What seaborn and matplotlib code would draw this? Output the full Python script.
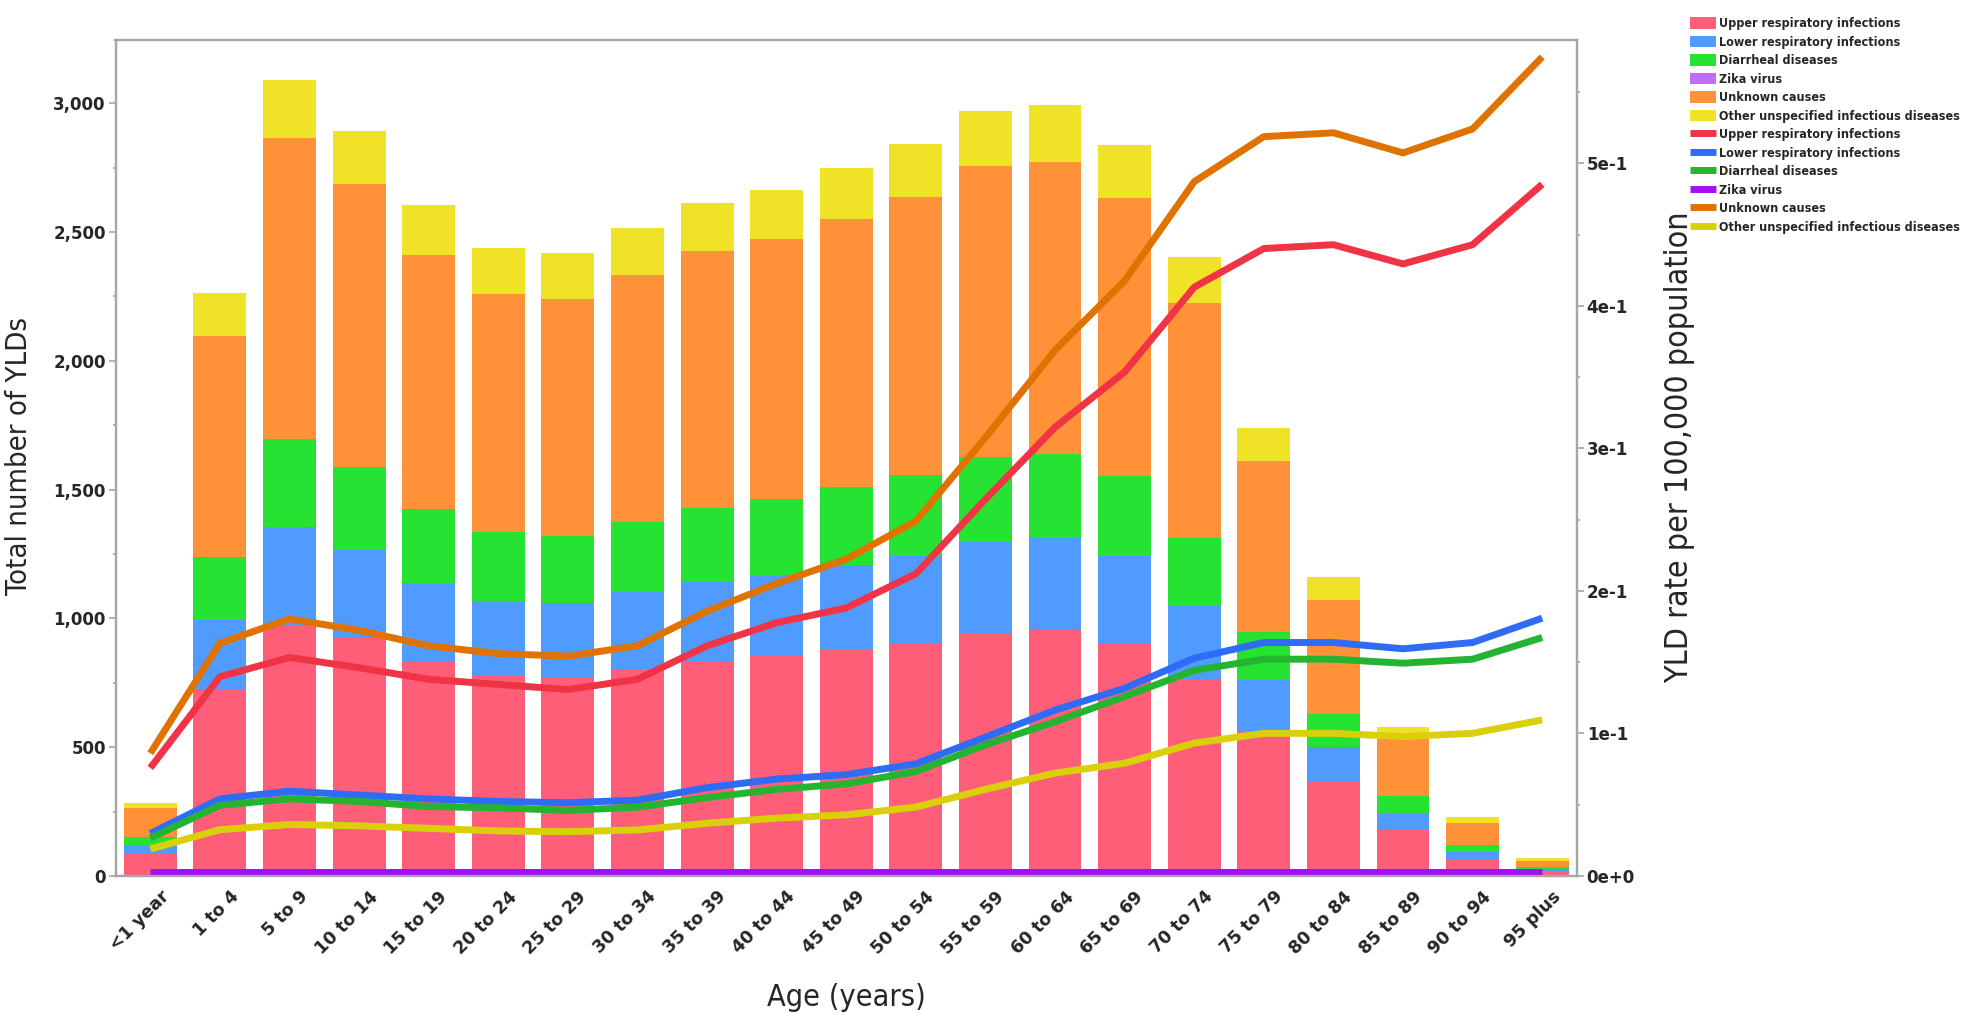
import numpy as np
import matplotlib
matplotlib.use("Agg")
import matplotlib.pyplot as plt
from matplotlib.ticker import MultipleLocator, FuncFormatter
from matplotlib.transforms import ScaledTranslation
import seaborn as sns

# Age groups
ages = ['<1 year', '1 to 4', '5 to 9', '10 to 14', '15 to 19', '20 to 24', '25 to 29',
        '30 to 34', '35 to 39', '40 to 44', '45 to 49', '50 to 54', '55 to 59', '60 to 64',
        '65 to 69', '70 to 74', '75 to 79', '80 to 84', '85 to 89', '90 to 94', '95 plus']

causes = ['Upper respiratory infections', 'Lower respiratory infections', 'Diarrheal diseases',
          'Zika virus', 'Unknown causes', 'Other unspecified infectious diseases']

# Total number of YLDs (stacked bars, left axis)
yld_upper = [84, 721, 975, 924, 830, 777, 771, 803, 830, 853, 878, 906, 943, 954, 901, 765, 560, 366, 178, 66, 17]
yld_lower = [36, 271, 378, 343, 309, 292, 288, 298, 311, 315, 328, 336, 355, 357, 341, 284, 199, 136, 68, 27, 10]
yld_diarrheal = [33, 248, 342, 321, 285, 267, 260, 273, 288, 294, 303, 315, 328, 328, 311, 264, 190, 128, 65, 27, 8]
yld_zika = [0] * 21
yld_unknown = [110, 855, 1168, 1097, 986, 922, 920, 958, 996, 1009, 1040, 1078, 1128, 1134, 1077, 910, 662, 442, 221, 87, 23]
yld_other = [22, 168, 225, 208, 193, 179, 178, 185, 189, 193, 201, 206, 217, 221, 206, 178, 129, 88, 46, 21, 10]

# YLD rate per 100,000 population (lines, right axis)
rate_upper = [0.0758, 0.1398, 0.1533, 0.1461, 0.1380, 0.1344, 0.1308, 0.1380, 0.1615, 0.1777, 0.1881,
              0.2120, 0.2643, 0.3148, 0.3536, 0.4131, 0.4402, 0.4429, 0.4294, 0.4429, 0.4853]
rate_lower = [0.0298, 0.0541, 0.0595, 0.0568, 0.0541, 0.0523, 0.0514, 0.0532, 0.0620, 0.0680, 0.0711,
              0.0787, 0.0974, 0.1164, 0.1317, 0.1528, 0.1638, 0.1638, 0.1594, 0.1638, 0.1809]
rate_diarrheal = [0.0266, 0.0496, 0.0541, 0.0523, 0.0487, 0.0478, 0.0460, 0.0483, 0.0550, 0.0608, 0.0646,
                  0.0733, 0.0920, 0.1082, 0.1259, 0.1443, 0.1521, 0.1521, 0.1493, 0.1521, 0.1673]
rate_zika = [0.0025] * 21
rate_unknown = [0.0861, 0.1633, 0.1804, 0.1723, 0.1615, 0.1560, 0.1542, 0.1615, 0.1858, 0.2052, 0.2223,
                0.2490, 0.3076, 0.3689, 0.4176, 0.4871, 0.5187, 0.5214, 0.5073, 0.5241, 0.5746]
rate_other = [0.0189, 0.0325, 0.0361, 0.0352, 0.0334, 0.0316, 0.0311, 0.0323, 0.0370, 0.0406, 0.0429,
              0.0483, 0.0608, 0.0722, 0.0791, 0.0932, 0.1001, 0.1001, 0.0978, 0.1001, 0.1095]

bar_colors = ['#ff5e78', '#4f9bff', '#26e232', '#be6ef5', '#ff9138', '#f0e226']
line_colors = ['#f03446', '#2f6cf6', '#25b430', '#a010f5', '#e07300', '#dad00a']

sns.set_style("white")
plt.rcParams['font.family'] = ['DejaVu Sans']
title_font = {'family': 'DejaVu Sans', 'stretch': 'condensed'}

fig = plt.figure(figsize=(19.68, 10.13), dpi=100)
ax = fig.add_axes([115.5 / 1968, 137 / 1013, 1461.5 / 1968, 836 / 1013])
ax2 = ax.twinx()

# Stacked bars: draw cumulative tops from the tallest layer down
layers = [yld_upper, yld_lower, yld_diarrheal, yld_zika, yld_unknown, yld_other]
tops = np.cumsum(np.array(layers, dtype=float), axis=0)
for k in range(len(layers) - 1, -1, -1):
    sns.barplot(x=ages, y=tops[k], color=bar_colors[k], saturation=1, width=0.76,
                errorbar=None, linewidth=0, ax=ax, label=causes[k])
bar_h, bar_l = ax.get_legend_handles_labels()
bar_map = dict(zip(bar_l, bar_h))
if ax.get_legend() is not None:
    ax.get_legend().remove()

# Rate lines on right axis
xpos = np.arange(len(ages))
rates = [rate_upper, rate_lower, rate_diarrheal, rate_zika, rate_unknown, rate_other]
for k, r in enumerate(rates):
    sns.lineplot(x=xpos, y=r, color=line_colors[k], linewidth=5, ax=ax2,
                 label=causes[k], solid_capstyle='butt')
line_h, line_l = ax2.get_legend_handles_labels()
if ax2.get_legend() is not None:
    ax2.get_legend().remove()

ax.set_xlim(-0.5, 20.5)
ax.set_ylim(0, 3245)
ax2.set_ylim(0, 0.5865)

ax.yaxis.set_major_locator(MultipleLocator(500))
ax.yaxis.set_minor_locator(MultipleLocator(250))
ax.yaxis.set_major_formatter(FuncFormatter(lambda v, p: f"{v:,.0f}"))
ax2.yaxis.set_major_locator(MultipleLocator(0.1))
ax2.yaxis.set_minor_locator(MultipleLocator(0.05))


def sci_fmt(v, p):
    m, e = f"{v:.0e}".split('e')
    return f"{m}e{int(e):+d}"


ax2.yaxis.set_major_formatter(FuncFormatter(sci_fmt))

spine_col = '#a6a6a6'
for a in (ax, ax2):
    for s in a.spines.values():
        s.set_color(spine_col)
        s.set_linewidth(1.6)
    a.tick_params(axis='y', which='major', length=5, width=1.2, color=spine_col, pad=2,
                  labelsize=12)
    a.tick_params(axis='y', which='minor', length=2.5, width=1.2, color=spine_col)
for lab in ax.get_yticklabels() + ax2.get_yticklabels():
    lab.set_fontweight('bold')

ax.tick_params(axis='x', length=0, pad=13, labelsize=12.5)
offset = ScaledTranslation(16 / 100, 0, fig.dpi_scale_trans)
for lab in ax.get_xticklabels():
    lab.set_rotation(45)
    lab.set_ha('right')
    lab.set_va('center')
    lab.set_rotation_mode('anchor')
    lab.set_fontweight('bold')
    lab.set_transform(lab.get_transform() + offset)

ax.set_xlabel('Age (years)', fontsize=22, **title_font)
ax.xaxis.set_label_coords(0.5, -0.128)
ax.set_ylabel('Total number of YLDs', fontsize=21, **title_font)
ax.yaxis.set_label_coords(-0.0565, 0.502)
ax2.set_ylabel('YLD rate per 100,000 population', fontsize=23, **title_font)
ax2.yaxis.set_label_coords(1.0595, 0.513)

handles = [bar_map[c] for c in causes] + line_h
labels = causes + line_l
fig.legend(handles, labels, loc='upper left', bbox_to_anchor=(1690 / 1968, 0.983),
           frameon=False, borderpad=0, borderaxespad=0, handlelength=2.1, handleheight=1.0,
           handletextpad=0.25, labelspacing=0.44,
           prop={'family': 'DejaVu Sans', 'stretch': 'condensed', 'weight': 'bold', 'size': 9})

fig.savefig('out.png', dpi=100)
